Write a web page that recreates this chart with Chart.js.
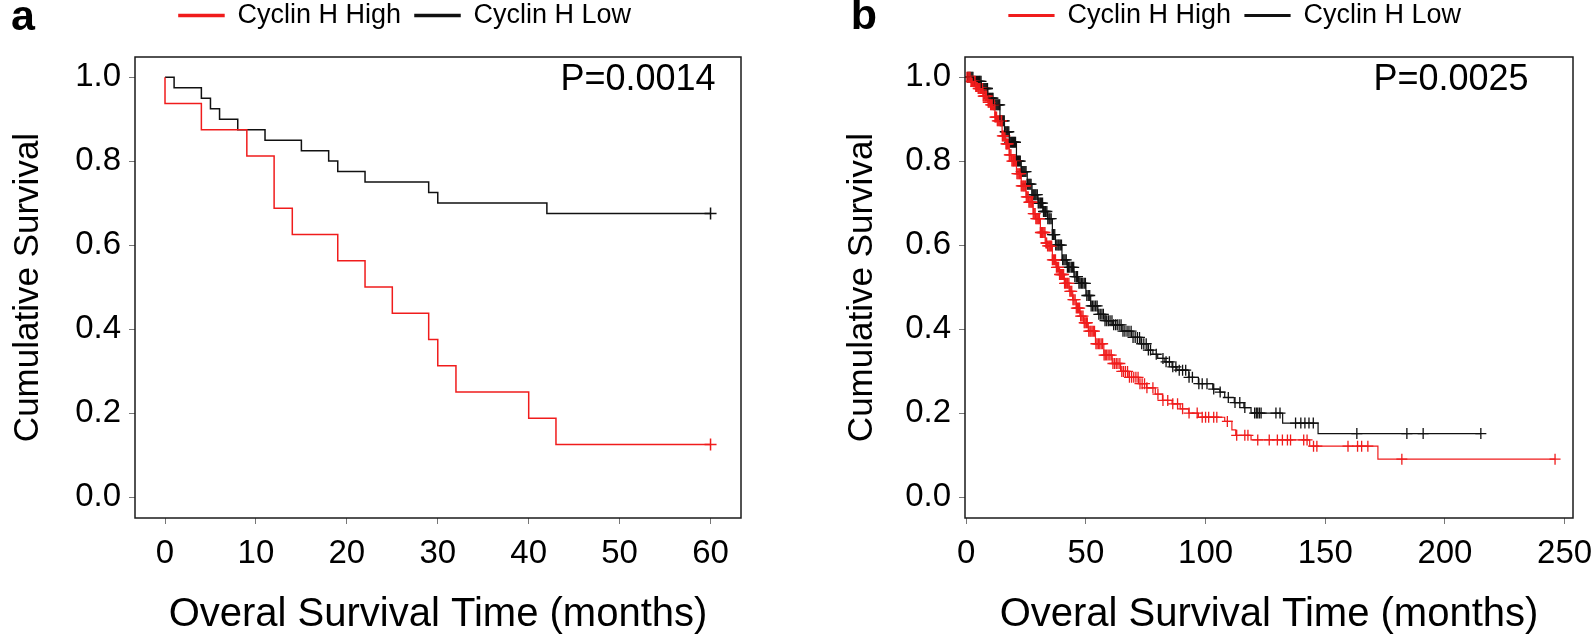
<!DOCTYPE html>
<html>
<head>
<meta charset="utf-8">
<script src="https://cdn.jsdelivr.net/npm/chart.js@4"></script>
<style>
  html, body { margin: 0; padding: 0; background: #fff; overflow: hidden; }
  body { width: 1594px; height: 638px; position: relative; }
  canvas { position: absolute; top: 0; }
  #panel-a { left: 0; }
  #panel-b { left: 834px; }
</style>
</head>
<body>
<canvas id="panel-a" width="810" height="638"></canvas>
<canvas id="panel-b" width="802" height="638"></canvas>
<script>
// Two Kaplan-Meier panels, Cyclin H high vs low.
// Curves are (time in months, cumulative survival),
// drawn as step lines; censored cases are drawn as "+" on the curve.

var Y_TICKS = [0, 0.2, 0.4, 0.6, 0.8, 1.0];
var X_TICKS_A = [0, 10, 20, 30, 40, 50, 60];
var X_TICKS_B = [0, 50, 100, 150, 200, 250];

// panel a
var A_HIGH_T = [0, 0, 4, 9, 12, 14, 19, 22, 25, 29, 30, 32, 40, 43, 60];
var A_HIGH_S = [1.0, 0.9375, 0.875, 0.8125, 0.6875, 0.625, 0.5625, 0.5, 0.4375, 0.375, 0.3125, 0.25, 0.1875, 0.125, 0.125];
var A_LOW_T = [0, 1, 4, 5, 6, 8, 11, 15, 18, 19, 22, 29, 30, 42, 60];
var A_LOW_S = [1.0, 0.975, 0.95, 0.925, 0.9, 0.875, 0.85, 0.825, 0.8, 0.775, 0.75, 0.725, 0.7, 0.675, 0.675];
var A_HIGH_CENS = [60];
var A_LOW_CENS = [60];

// panel b
var B_HIGH_T = [0, 2, 4, 5, 7, 9, 10, 12, 13, 15, 16.5, 18, 19, 21, 23, 25, 26, 28, 29, 31, 33, 34, 36, 37.5, 39, 41, 43, 44.5, 46, 47.5, 49, 51, 54, 57.5, 61, 64.5, 68, 72, 75.4, 79, 82, 86, 89.4, 93, 97, 108, 111, 112.6, 119, 143.5, 172, 246];
var B_HIGH_S = [1.0, 0.99, 0.978, 0.973, 0.955, 0.94, 0.934, 0.905, 0.896, 0.86, 0.841, 0.815, 0.8, 0.77, 0.741, 0.715, 0.702, 0.675, 0.663, 0.63, 0.605, 0.598, 0.565, 0.547, 0.53, 0.509, 0.49, 0.47, 0.45, 0.431, 0.415, 0.395, 0.365, 0.338, 0.318, 0.299, 0.285, 0.27, 0.26, 0.245, 0.23, 0.222, 0.21, 0.2, 0.19, 0.18, 0.16, 0.147, 0.136, 0.121, 0.09, 0.09];
var B_LOW_T = [0, 3, 6.3, 9, 11.4, 14.1, 16, 18, 21, 23, 25.5, 27.5, 30, 32, 34, 36, 37.3, 40, 42.2, 45, 47, 50, 52, 55, 58, 61, 65, 69, 73, 76, 78, 80, 83, 86, 88, 93, 97, 103, 106, 108, 112, 116, 119, 132.2, 147, 215];
var B_LOW_S = [1.0, 0.99, 0.973, 0.95, 0.934, 0.896, 0.87, 0.845, 0.8, 0.775, 0.745, 0.72, 0.7, 0.68, 0.663, 0.625, 0.6, 0.565, 0.547, 0.525, 0.509, 0.48, 0.455, 0.435, 0.42, 0.41, 0.395, 0.38, 0.365, 0.35, 0.34, 0.33, 0.322, 0.31, 0.302, 0.285, 0.27, 0.257, 0.25, 0.237, 0.225, 0.213, 0.2, 0.176, 0.151, 0.151];
var B_HIGH_CENS = [0.3, 0.8, 1.2, 1.6, 2, 2.3, 2.6, 3, 3.3, 3.7, 4, 4.3, 4.6, 5, 5.3, 5.7, 6, 6.4, 6.8, 7.1, 7.4, 7.8, 8.1, 8.5, 8.9, 9.2, 9.5, 9.9, 10.2, 10.6, 11, 11.3, 11.7, 12, 12.3, 12.7, 13, 13.4, 13.8, 14.1, 14.5, 14.8, 15.1, 15.5, 15.9, 16.2, 16.6, 16.9, 17.2, 17.6, 18, 18.3, 18.7, 19.1, 19.5, 19.8, 20.1, 20.5, 20.9, 21.2, 21.6, 22, 22.3, 22.7, 23, 23.4, 23.8, 24.1, 24.5, 24.8, 25.1, 25.5, 25.9, 26.2, 26.6, 27, 27.4, 27.7, 28, 28.4, 28.8, 29.1, 29.5, 29.9, 30.3, 30.6, 31, 31.4, 31.8, 32.1, 32.5, 32.9, 33.3, 33.6, 34, 34.5, 34.9, 35.3, 35.7, 36, 36.4, 36.9, 37.3, 37.7, 38.1, 38.6, 39, 39.4, 39.8, 40.3, 40.7, 41.1, 41.5, 42, 42.4, 42.9, 43.3, 43.7, 44.1, 44.6, 45, 45.5, 46, 46.5, 46.9, 47.4, 47.8, 48.3, 48.8, 49.3, 49.7, 50.2, 50.6, 51.2, 51.7, 52.1, 52.6, 53.1, 53.6, 54.2, 54.7, 55.3, 55.8, 56.4, 57, 57.6, 58.1, 58.7, 59.3, 60, 60.6, 61.3, 62, 62.7, 63.4, 64.2, 65, 65.7, 66.5, 67.4, 68.2, 69.1, 70, 70.9, 71.8, 72.6, 73.5, 74.5, 75.5, 78, 80.1, 82.2, 84.2, 86.3, 88.3, 90.4, 93.1, 96.5, 98.6, 100, 101.3, 103.4, 104.7, 109.1, 113, 116.4, 117.7, 121.8, 126.6, 130, 132.1, 134.2, 135.5, 141, 142.4, 145.1, 146.5, 159.5, 163.5, 165.2, 167.8, 182, 246];
var B_LOW_CENS = [0.6, 1.1, 1.6, 2, 2.4, 2.8, 3.1, 3.5, 3.9, 4.3, 4.7, 5.1, 5.5, 5.8, 6.2, 6.6, 7, 7.4, 7.8, 8.2, 8.6, 8.9, 9.3, 9.7, 10.1, 10.5, 10.9, 11.2, 11.6, 12, 12.4, 12.8, 13.2, 13.6, 14, 14.3, 14.7, 15.1, 15.5, 15.9, 16.3, 16.7, 17.1, 17.4, 17.8, 18.2, 18.6, 19, 19.4, 19.8, 20.2, 20.6, 21, 21.4, 21.8, 22.2, 22.6, 23, 23.4, 23.8, 24.2, 24.6, 25, 25.5, 25.9, 26.3, 26.7, 27.1, 27.5, 28, 28.4, 28.8, 29.2, 29.7, 30.1, 30.5, 31, 31.4, 31.9, 32.3, 32.8, 33.2, 33.7, 34.1, 34.6, 35, 35.5, 36, 36.5, 37, 37.4, 37.9, 38.4, 38.8, 39.3, 39.8, 40.3, 40.8, 41.3, 41.8, 42.3, 42.8, 43.3, 43.9, 44.4, 44.9, 45.4, 46, 46.5, 47.1, 47.6, 48.2, 48.7, 49.3, 49.8, 50.4, 51, 51.6, 52.2, 52.8, 53.4, 54.1, 54.7, 55.4, 56, 56.7, 57.3, 58, 58.7, 59.4, 60.1, 60.9, 61.6, 62.4, 63.1, 63.9, 64.7, 65.5, 66.3, 67.2, 68, 68.9, 69.7, 70.6, 71.5, 72.4, 73.3, 74.2, 75.2, 76.1, 77, 79.4, 82.2, 83.5, 84.9, 86.3, 87.6, 89, 90.4, 91.7, 93.1, 94.5, 97.2, 98.6, 100.6, 103.4, 106.1, 109.5, 112.3, 114.3, 116.4, 120.5, 121.2, 121.8, 122.5, 123.2, 129.4, 131.1, 137.6, 139.8, 141.5, 143.2, 145, 163.2, 184.1, 190.9, 215];

var FONT = "'Liberation Sans', Arial, sans-serif";
var RED = "#f01c1c";
var BLACK = "#111111";

Chart.defaults.font.family = FONT;
Chart.defaults.color = "#000";
Chart.defaults.animation = false;

function toPoints(times, surv) {
  return times.map(function (t, i) { return { x: t, y: surv[i] }; });
}

// survival at time t on a step curve (last event at or before t)
function stepValue(times, surv, t) {
  var v = surv[0];
  for (var i = 0; i < times.length; i++) {
    if (times[i] <= t) v = surv[i];
  }
  return v;
}

function censPoints(cens, times, surv) {
  return cens.map(function (t) { return { x: t, y: stepValue(times, surv, t) }; });
}

var panelDeco = {
  id: "panelDeco",
  afterDraw: function (chart, args, opts) {
    var ctx = chart.ctx;
    var a = chart.chartArea;
    ctx.save();
    ctx.strokeStyle = "#1a1a1a";
    ctx.lineWidth = 1.5;
    ctx.strokeRect(a.left, a.top, a.right - a.left, a.bottom - a.top);
    ctx.fillStyle = "#000";
    ctx.textBaseline = "middle";
    ctx.textAlign = "center";
    ctx.font = "bold 43px " + FONT;
    ctx.fillText(opts.letter, opts.letterX, opts.letterY);
    ctx.font = "36px " + FONT;
    ctx.fillText(opts.pText, opts.pX, opts.pY);
    ctx.restore();
  },
};

function makePanel(el, p) {
  var lineW = p.lineWidth;
  return new Chart(el, {
    type: "line",
    data: {
      datasets: [
        {
          label: "Cyclin H High",
          data: toPoints(p.highT, p.highS),
          borderColor: RED,
          backgroundColor: RED,
          borderWidth: lineW,
          stepped: true,
          pointRadius: 0,
          xAxisID: "x",
          yAxisID: "y",
        },
        {
          label: "Cyclin H Low",
          data: toPoints(p.lowT, p.lowS),
          borderColor: BLACK,
          backgroundColor: BLACK,
          borderWidth: lineW,
          stepped: true,
          pointRadius: 0,
          xAxisID: "x",
          yAxisID: "y",
        },
        {
          label: "",
          type: "scatter",
          data: censPoints(p.highCens, p.highT, p.highS),
          pointStyle: "cross",
          pointRadius: p.crossR,
          pointBorderWidth: p.crossW,
          borderColor: RED,
          backgroundColor: RED,
          xAxisID: "x",
          yAxisID: "y",
        },
        {
          label: "",
          type: "scatter",
          data: censPoints(p.lowCens, p.lowT, p.lowS),
          pointStyle: "cross",
          pointRadius: p.crossR,
          pointBorderWidth: p.crossW,
          borderColor: BLACK,
          backgroundColor: BLACK,
          xAxisID: "x",
          yAxisID: "y",
        },
      ],
    },
    options: {
      responsive: false,
      events: [],
      layout: { padding: { top: -12, left: 0, right: 0, bottom: 0 } },
      plugins: {
        tooltip: { enabled: false },
        legend: {
          position: "top",
          labels: {
            boxWidth: 45,
            boxHeight: 2,
            padding: 14,
            color: "#000",
            font: { size: 27 },
            filter: function (item) { return item.text !== ""; },
          },
        },
        panelDeco: p.deco,
      },
      scales: {
        x: {
          type: "linear",
          position: "bottom",
          min: p.xMin,
          max: p.xMax,
          afterBuildTicks: function (s) {
            s.ticks = p.xTicks.map(function (v) { return { value: v }; });
          },
          afterFit: function (s) { s.height = 120; },
          grid: { drawOnChartArea: false, drawTicks: true, tickLength: 6, color: "#777" },
          border: { display: false },
          ticks: {
            autoSkip: false,
            maxRotation: 0,
            padding: 10,
            color: "#000",
            font: { size: 33 },
            callback: function (v) { return String(v); },
          },
          title: {
            display: true,
            text: "Overal Survival Time (months)",
            color: "#000",
            font: { size: 40, lineHeight: 1 },
            padding: { top: 0, bottom: 3 },
          },
        },
        y: {
          type: "linear",
          position: "left",
          min: -0.05,
          max: 1.048,
          afterBuildTicks: function (s) {
            s.ticks = Y_TICKS.map(function (v) { return { value: v }; });
          },
          afterFit: function (s) { s.width = p.yAxisWidth; },
          grid: { drawOnChartArea: false, drawTicks: true, tickLength: 6, color: "#777" },
          border: { display: false },
          ticks: {
            padding: 8,
            color: "#000",
            font: { size: 33 },
            callback: function (v) { return v.toFixed(1); },
          },
          title: {
            display: true,
            text: "Cumulative Survival",
            color: "#000",
            font: { size: 35, lineHeight: 1 },
            padding: { top: 11, bottom: 0 },
          },
        },
        // empty boxes that only reserve room (gap under legend, right margin)
        padTop: {
          type: "linear",
          position: "top",
          axis: "x",
          grid: { display: false },
          border: { display: false },
          ticks: { display: false },
          afterFit: function (s) { s.height = 18; },
        },
        padRight: {
          type: "linear",
          position: "right",
          axis: "y",
          grid: { display: false },
          border: { display: false },
          ticks: { display: false },
          afterFit: function (s) { s.width = p.rightPad; },
        },
      },
    },
    plugins: [panelDeco],
  });
}

makePanel(document.getElementById("panel-a"), {
  highT: A_HIGH_T, highS: A_HIGH_S, lowT: A_LOW_T, lowS: A_LOW_S,
  highCens: A_HIGH_CENS, lowCens: A_LOW_CENS,
  xMin: -3.3, xMax: 63.35, xTicks: X_TICKS_A,
  yAxisWidth: 135, rightPad: 69, lineWidth: 1.5, crossR: 6, crossW: 1.5,
  deco: { letter: "a", letterX: 23, letterY: 18, pText: "P=0.0014", pX: 638, pY: 80 },
});

makePanel(document.getElementById("panel-b"), {
  highT: B_HIGH_T, highS: B_HIGH_S, lowT: B_LOW_T, lowS: B_LOW_S,
  highCens: B_HIGH_CENS, lowCens: B_LOW_CENS,
  xMin: -0.5, xMax: 253.5, xTicks: X_TICKS_B,
  yAxisWidth: 131, rightPad: 63, lineWidth: 1.2, crossR: 5.5, crossW: 1.3,
  deco: { letter: "b", letterX: 30, letterY: 17, pText: "P=0.0025", pX: 617, pY: 80 },
});
</script>
</body>
</html>
